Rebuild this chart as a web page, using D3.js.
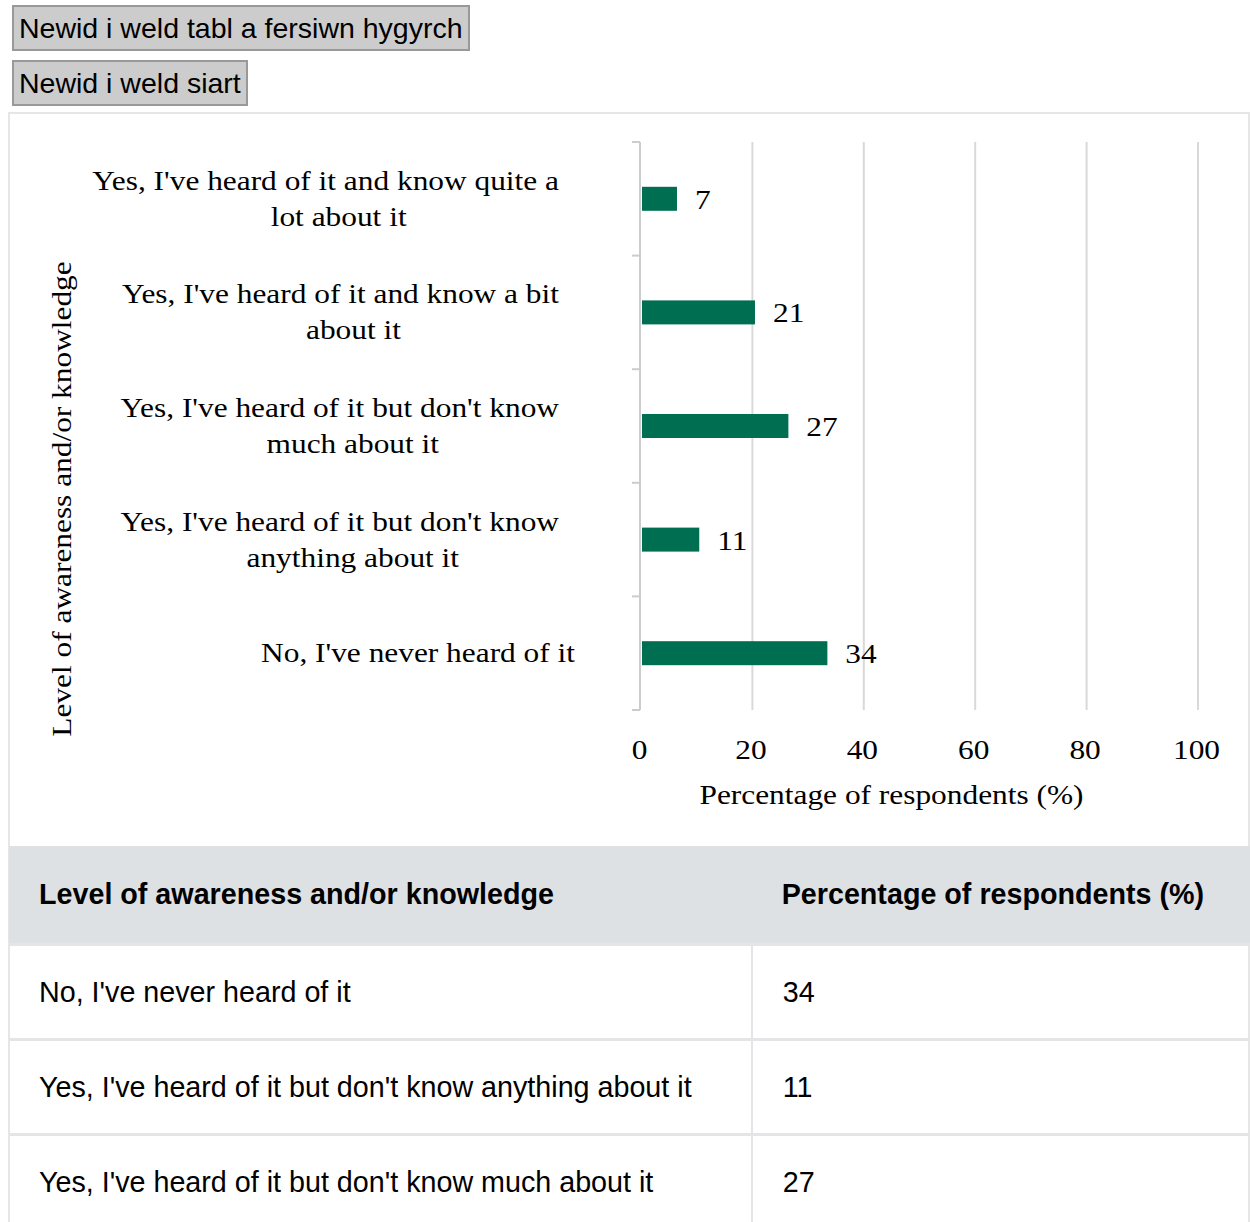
<!DOCTYPE html>
<html>
<head>
<meta charset="utf-8">
<script src="https://cdn.jsdelivr.net/npm/d3@7"></script>
<style>
  html, body { margin: 0; padding: 0; background: #fff; }
  body { position: relative; width: 1250px; height: 1222px; overflow: hidden; }
  .btn {
    position: absolute; left: 12px; height: 46px; box-sizing: border-box;
    background: #cccccc; border: 2px solid #999999; padding: 0 5px;
    font-family: "Liberation Sans", Arial, sans-serif; font-size: 28.5px; color: #000;
    line-height: 42px; white-space: nowrap;
  }
  #frame {
    position: absolute; left: 8px; top: 112px; width: 1242px; height: 1200px;
    box-sizing: border-box; border: 2px solid #e6e6e6;
  }
  svg { position: absolute; left: 0; top: 0; }
  table {
    position: absolute; left: 9px; top: 846px; border-collapse: collapse;
    font-family: "Liberation Sans", Arial, sans-serif; font-size: 28.7px; color: #000;
  }
  th, td { text-align: left; padding: 0 0 0 30px; }
  th { background: #dee1e4; height: 97px; font-weight: bold; }
  td { height: 92px; border-top: 3px solid #e3e5e8; }
  td:first-child { width: 713px; border-right: 2px solid #e3e5e8; }
  th:first-child { width: 713px; }
  th:last-child, td:last-child { width: 468px; }
</style>
</head>
<body>
<div class="btn" style="top:5px;">Newid i weld tabl a fersiwn hygyrch</div>
<div class="btn" style="top:60px;">Newid i weld siart</div>
<div id="frame"></div>
<svg id="chart" width="1250" height="846"></svg>
<table id="tbl"></table>
<script>
const categories = [
  "Yes, I've heard of it and know quite a lot about it",
  "Yes, I've heard of it and know a bit about it",
  "Yes, I've heard of it but don't know much about it",
  "Yes, I've heard of it but don't know anything about it",
  "No, I've never heard of it"
];
const values = [7, 21, 27, 11, 34];
const xTicks = [0, 20, 40, 60, 80, 100];
const xTitle = "Percentage of respondents (%)";
const yTitle = "Level of awareness and/or knowledge";
const tableHeaders = ["Level of awareness and/or knowledge", "Percentage of respondents (%)"];
const tableOrder = [4, 3, 2, 1, 0];

(function () {
const svg = d3.select("#chart");
const serif = "'Liberation Serif', 'Times New Roman', serif";
const fs = 28, stretchK = 1.12;
const pLeft = 641, pRight = 1198, pTop = 142, pBottom = 710;

function stretch(sel) {
  sel.each(function () {
    const w = this.getComputedTextLength();
    d3.select(this).attr("textLength", w * stretchK).attr("lengthAdjust", "spacingAndGlyphs");
  });
}

const x = d3.scaleLinear().domain([0, 100]).range([pLeft, pRight]);
const y = d3.scaleBand().domain(categories).range([pTop, pBottom]).paddingInner(0).paddingOuter(0);

// gridlines
svg.append("g").selectAll("line").data(xTicks.filter(t => t > 0)).join("line")
  .attr("x1", d => x(d)).attr("x2", d => x(d))
  .attr("y1", pTop).attr("y2", pBottom)
  .attr("stroke", "#d9d9d9").attr("stroke-width", 2);

// y axis
const yAxis = d3.axisLeft(y).tickSize(8).tickFormat("");
const yg = svg.append("g").attr("transform", `translate(${pLeft - 1},0)`).call(yAxis);
yg.select(".domain").attr("stroke", "#cccccc").attr("stroke-width", 2).attr("d", `M0,${pTop}V${pBottom}`);
yg.selectAll(".tick").remove();
const bounds = categories.map(c => y(c)).concat([pBottom]);
yg.selectAll("line.bt").data(bounds).join("line").attr("class", "bt")
  .attr("x1", -8).attr("x2", 0).attr("y1", d => d).attr("y2", d => d)
  .attr("stroke", "#cccccc").attr("stroke-width", 2);

// x axis labels
const xAxis = d3.axisBottom(x).tickValues(xTicks).tickSize(0).tickPadding(0);
const xg = svg.append("g").attr("transform", `translate(0,${pBottom})`).call(xAxis);
xg.select(".domain").remove();
xg.selectAll("text").attr("font-family", serif).attr("font-size", fs).attr("fill", "#000")
  .attr("dy", null).attr("y", 49).attr("x", -2).call(stretch);

// bars
const barH = 24;
svg.append("g").selectAll("rect").data(values).join("rect")
  .attr("x", x(0) + 1)
  .attr("y", (d, i) => y(categories[i]) + y.bandwidth() / 2 - barH / 2)
  .attr("width", d => x(d) - x(0) - 4)
  .attr("height", barH)
  .attr("fill", "#006e51");

// value labels
svg.append("g").selectAll("text").data(values).join("text")
  .attr("x", d => x(d) + 15)
  .attr("y", (d, i) => y(categories[i]) + y.bandwidth() / 2 + 10)
  .attr("font-family", serif).attr("font-size", fs).attr("fill", "#000")
  .text(d => d).call(stretch);

// category labels with wrapping
const maxW = 480, lineH = 36, labelRight = 575;
const measure = svg.append("text").attr("font-family", serif).attr("font-size", fs).attr("visibility", "hidden");
function tw(s) { measure.text(s); return measure.node().getComputedTextLength() * stretchK; }
categories.forEach((c, i) => {
  const words = c.split(" ");
  const lines = [];
  let cur = "";
  words.forEach(w => {
    const t = cur ? cur + " " + w : w;
    if (tw(t) > maxW && cur) { lines.push(cur); cur = w; } else cur = t;
  });
  lines.push(cur);
  const widths = lines.map(tw);
  const mw = Math.max(...widths);
  const multi = lines.length > 1;
  const cx = labelRight - mw / 2 - (multi ? 16 : 0);
  const cy = y(c) + y.bandwidth() / 2;
  const t = svg.append("text").attr("font-family", serif).attr("font-size", fs)
    .attr("fill", "#000").attr("text-anchor", "middle");
  lines.forEach((l, j) => {
    t.append("tspan").attr("x", cx + (j > 0 ? 13 : 0))
      .attr("y", cy + 9 + (j - (lines.length - 1) / 2) * lineH)
      .attr("textLength", widths[j]).attr("lengthAdjust", "spacingAndGlyphs")
      .text(l);
  });
});
measure.remove();

// axis titles
svg.append("text").attr("x", (pLeft + pRight) / 2 - 28).attr("y", 804)
  .attr("text-anchor", "middle").attr("font-family", serif).attr("font-size", fs)
  .attr("fill", "#000").text(xTitle).call(stretch);
svg.append("text").attr("transform", `translate(71,${499}) rotate(-90)`)
  .attr("text-anchor", "middle").attr("font-family", serif).attr("font-size", fs)
  .attr("fill", "#000").text(yTitle).call(stretch);

// table
const tbl = d3.select("#tbl");
tbl.append("thead").append("tr").selectAll("th").data(tableHeaders).join("th").text(d => d);
tbl.append("tbody").selectAll("tr").data(tableOrder).join("tr")
  .selectAll("td").data(i => [categories[i], values[i]]).join("td").text(d => d);
})();
</script>
</body>
</html>
